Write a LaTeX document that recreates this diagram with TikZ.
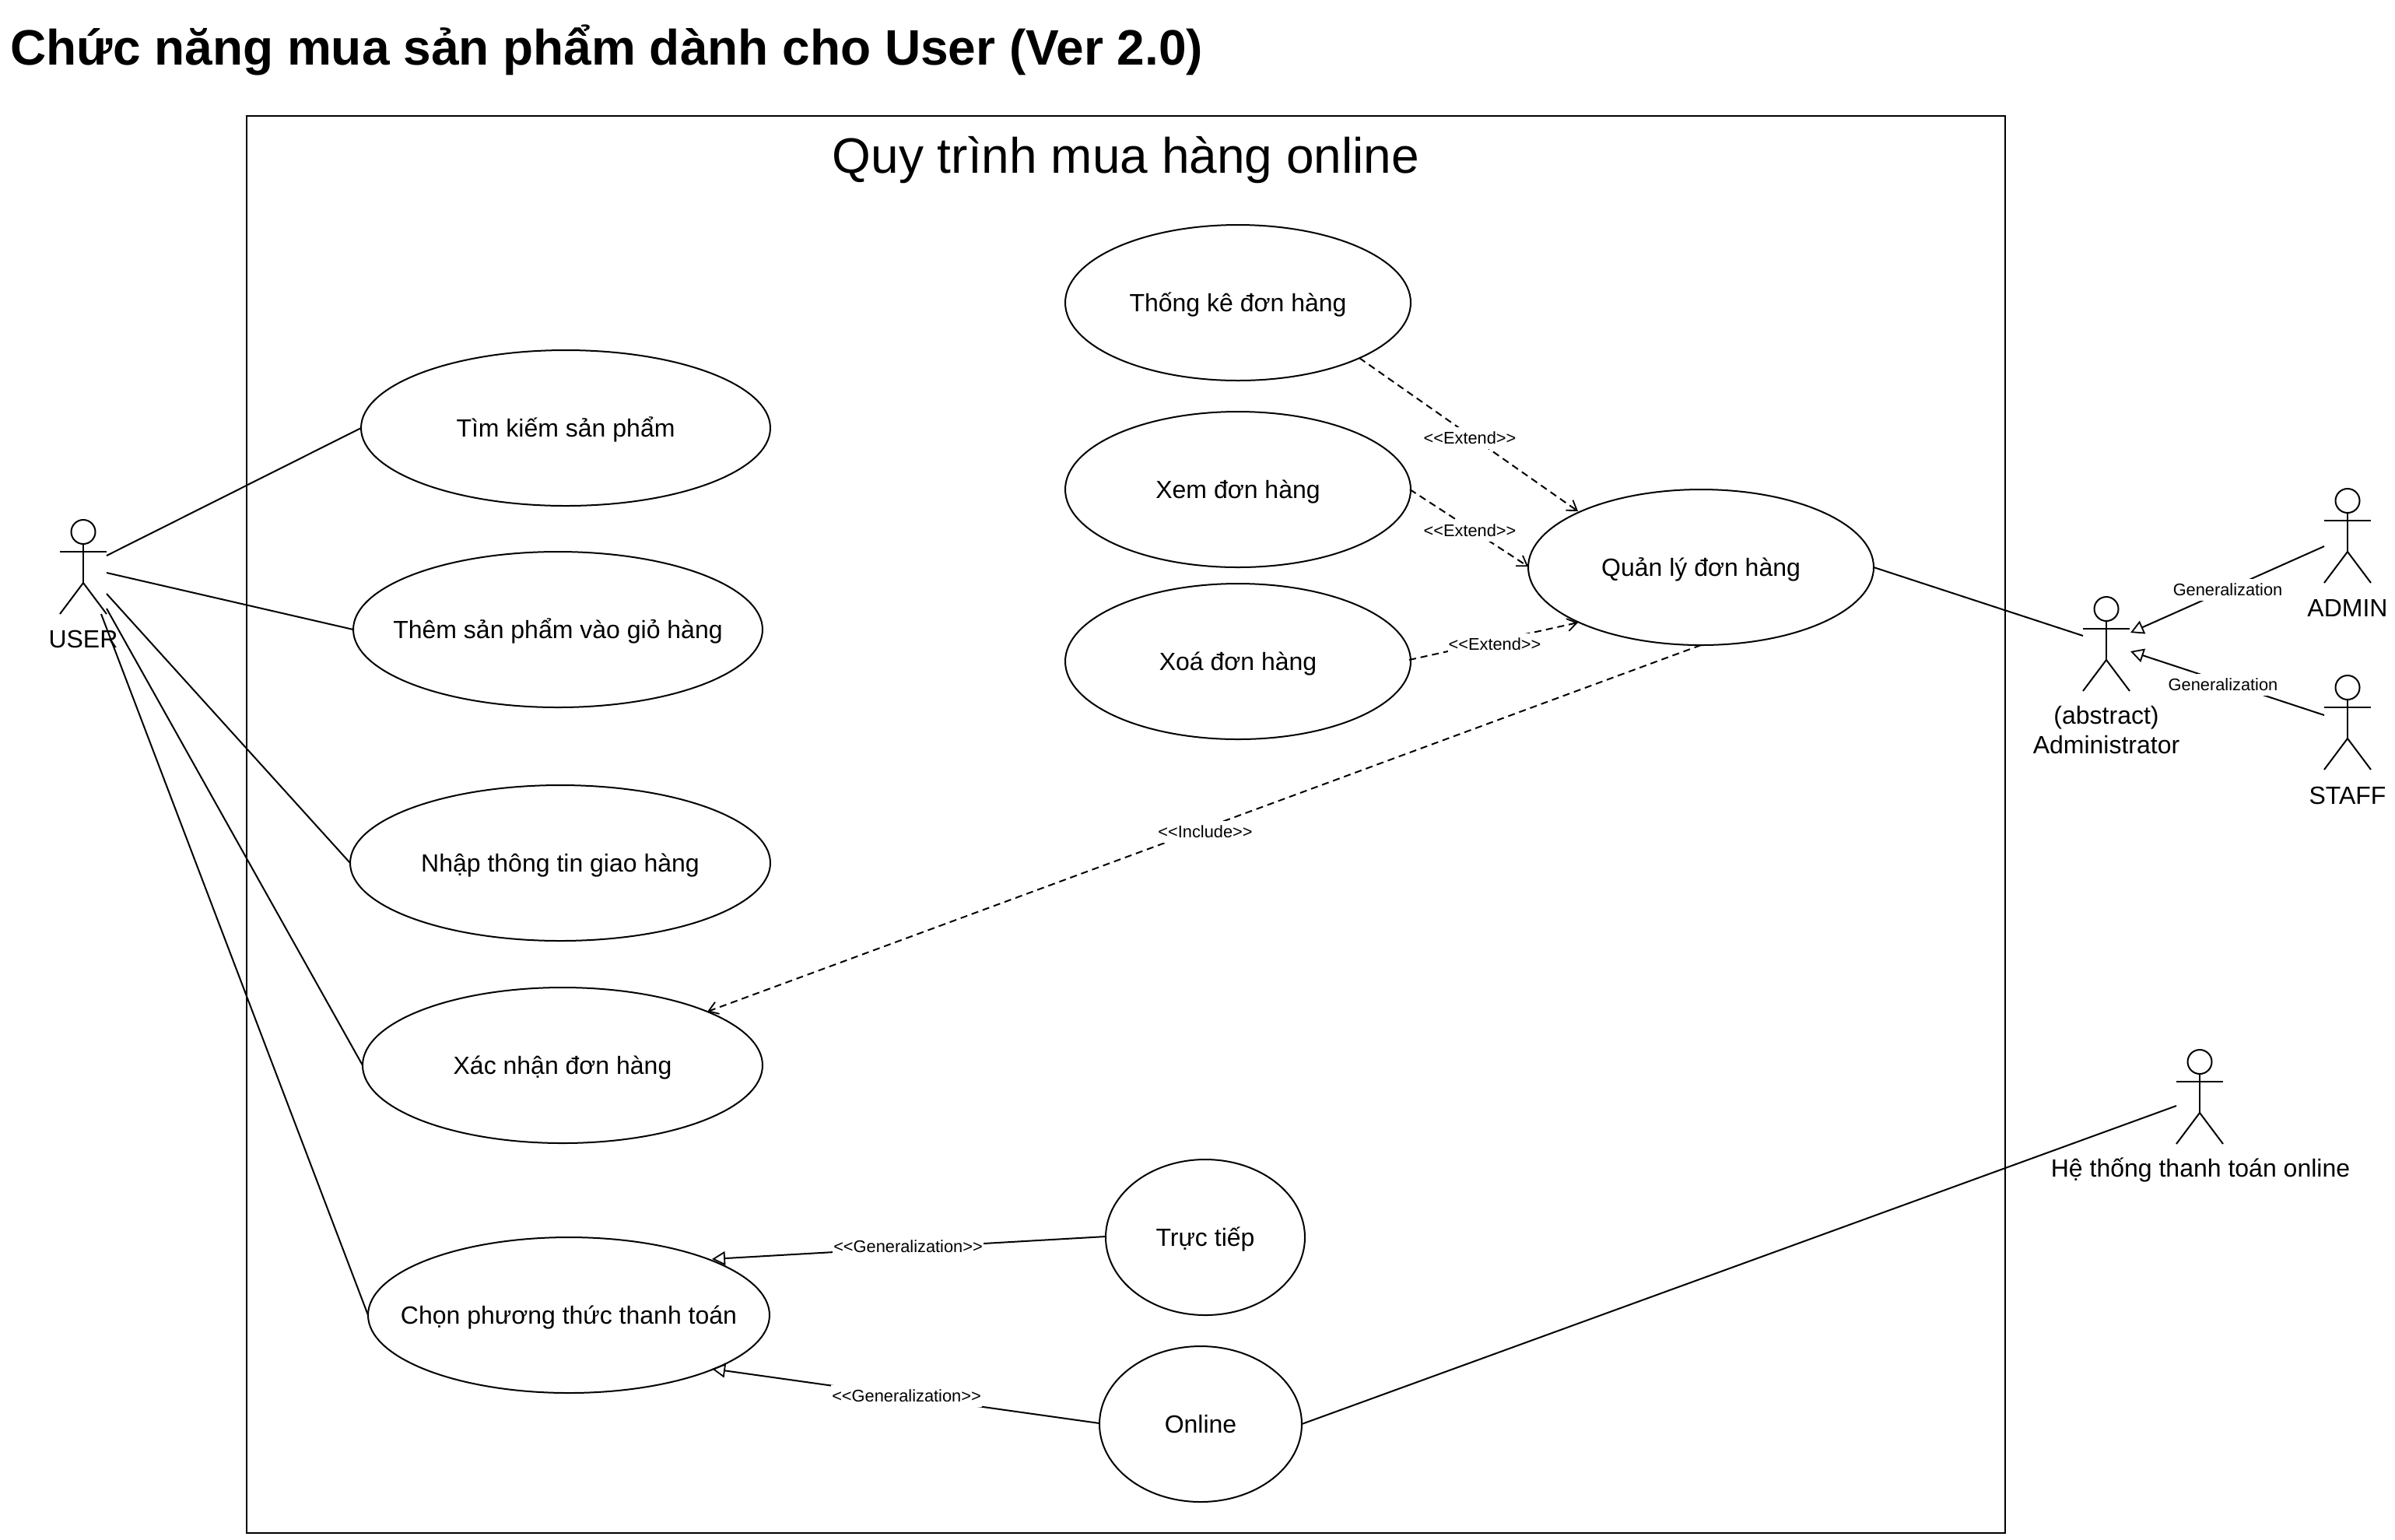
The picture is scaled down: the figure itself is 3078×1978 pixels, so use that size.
\documentclass[tikz,border=0pt]{standalone}
\usepackage{fontspec}
\setmainfont{Liberation Sans}
\usetikzlibrary{shapes.geometric,arrows.meta}
\newcommand{\uctext}[1]{\makebox[0pt][c]{#1}}
\tikzset{
  uc/.style 2 args={ellipse,draw,line width=1pt,inner sep=0pt,outer sep=0pt,minimum width=#1pt,minimum height=#2pt,text height=12.5pt,text depth=1pt,font=\fontsize{16}{19}\selectfont},
  actortext/.style={align=center,font=\fontsize{16}{19.2}\selectfont,inner sep=0pt},
  link/.style={line width=1pt,black},
  ext/.style={line width=1pt,dash pattern=on 4.5pt off 3pt,-{Straight Barb[length=6pt,width=8pt,line width=0.9pt]}},
  gen/.style={line width=1pt,-{Triangle[open,length=8.5pt,width=9pt,line width=0.9pt]}},
  lab/.style={fill=white,inner sep=0.5pt,text height=10pt,text depth=3pt,font=\fontsize{10.9}{12.5}\selectfont},
  actorbox/.style={minimum width=30pt,minimum height=60.5pt,inner sep=0pt,outer sep=0pt}
}
% name, x centre, y top
\newcommand{\actorfig}[3]{%
  \node[actorbox] (#1) at (#2,#3+60.5) {};
  \begin{scope}[shift={(#2,#3)},line width=1pt]
    \draw (0,15.5) circle (7.75pt);
    \draw (0,31) -- (0,81);
    \draw (-30,41) -- (30,41);
    \draw (-30,121) -- (0,81) -- (30,121);
  \end{scope}}
\begin{document}
\begin{tikzpicture}[x=0.5pt,y=-0.5pt]
\useasboundingbox (0,0) rectangle (3078,1978);
\fill[white] (0,0) rectangle (3078,1978);
\node[anchor=west,inner sep=0pt,font=\fontsize{32}{36}\selectfont\bfseries] (title) at (13,64) {Chức năng mua sản phẩm dành cho User (Ver 2.0)};
\draw[line width=1pt] (317,149) rectangle (2577,1970);
\node[inner sep=0pt,font=\fontsize{32}{38}\selectfont] (sys) at (1447,206) {Quy trình mua hàng online};

\node[uc={263}{100}] (tim) at (727,550) {\uctext{Tìm kiếm sản phẩm}};
\node[uc={263}{100}] (them) at (717,809) {\uctext{Thêm sản phẩm vào giỏ hàng}};
\node[uc={270}{100}] (nhap) at (720,1109) {\uctext{Nhập thông tin giao hàng}};
\node[uc={257}{100}] (xac) at (723,1369) {\uctext{Xác nhận đơn hàng}};
\node[uc={258}{100}] (chon) at (731,1690) {\uctext{Chọn phương thức thanh toán}};
\node[uc={128}{100}] (truc) at (1549,1590) {\uctext{Trực tiếp}};
\node[uc={130}{100}] (online) at (1543,1830) {\uctext{Online}};
\node[uc={222}{100}] (tk) at (1591,389) {\uctext{Thống kê đơn hàng}};
\node[uc={222}{100}] (xem) at (1591,629) {\uctext{Xem đơn hàng}};
\node[uc={222}{100}] (xoa) at (1591,850) {\uctext{Xoá đơn hàng}};
\node[uc={222}{100}] (ql) at (2186,729) {\uctext{Quản lý đơn hàng}};

\actorfig{user}{107}{668}
\actorfig{adm}{2707}{767}
\actorfig{admin}{3017}{628}
\actorfig{staff}{3017}{868}
\actorfig{pay}{2827}{1349}
\node[actortext] (userl) at (107,821) {USER};
\node[actortext] (adml) at (2707,938) {(abstract)\\Administrator};
\node[actortext] (adminl) at (3017,781) {ADMIN};
\node[actortext] (staffl) at (3017,1022) {STAFF};
\node[actortext] (payl) at (2828,1503) {Hệ thống thanh toán online};

\coordinate (u1) at (137,714);
\coordinate (u2) at (137,736);
\coordinate (u3) at (137,763);
\coordinate (u4) at (137,782);
\coordinate (u5) at (130,789);
\draw[link] (u1) -- (tim.west);
\draw[link] (u2) -- (them.west);
\draw[link] (u3) -- (nhap.west);
\draw[link] (u4) -- (xac.west);
\draw[link] (u5) -- (chon.west);

\coordinate (a0) at (2677,817);
\draw[link] (ql.east) -- (a0);
\coordinate (a1) at (2987,702);
\coordinate (a2) at (2738,813);
\coordinate (a3) at (2987,919);
\coordinate (a4) at (2738,837);
\draw[gen] (a1) -- (a2);
\draw[gen] (a3) -- (a4);
\node[lab] (g1) at (2863,758) {Generalization};
\node[lab] (g2) at (2857,880) {Generalization};

\coordinate (t0) at (1747,460);
\coordinate (t1) at (2028,657);
\coordinate (x0) at (1812,629);
\coordinate (x1) at (1964,728);
\coordinate (o0) at (1811,848);
\coordinate (o1) at (2028,800);
\draw[ext] (t0) -- (t1);
\draw[ext] (x0) -- (x1);
\draw[ext] (o0) -- (o1);
\node[lab] (e1) at (1889,563) {<{}<Extend>{}>};
\node[lab] (e2) at (1889,682) {<{}<Extend>{}>};
\node[lab] (e3) at (1921,828) {<{}<Extend>{}>};

\coordinate (i1) at (909,1300);
\draw[ext] (ql.south) -- (i1);
\node[lab] (inc) at (1549,1069) {<{}<Include>{}>};

\coordinate (c1) at (915,1618);
\coordinate (c2) at (915,1759);
\draw[gen] (truc.west) ++(0,-1) -- (c1);
\coordinate (on0) at (1413,1829);
\draw[gen] (on0) -- (c2);
\node[lab] (g3) at (1167,1602) {<{}<Generalization>{}>};
\node[lab] (g4) at (1165,1794) {<{}<Generalization>{}>};

\coordinate (p0) at (2797,1421);
\draw[link] (online.east) -- (p0);
\end{tikzpicture}
\end{document}
